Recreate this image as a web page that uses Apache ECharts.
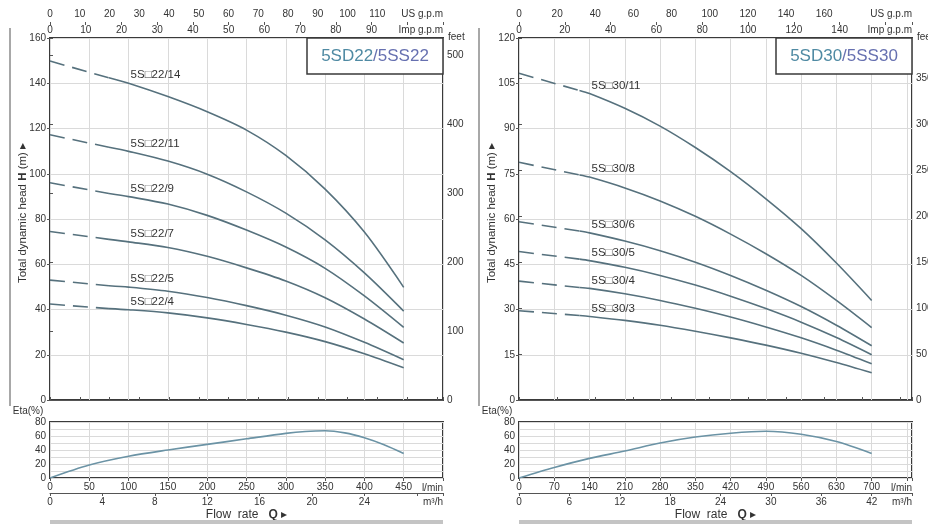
<!DOCTYPE html>
<html><head><meta charset="utf-8">
<script src="https://cdn.jsdelivr.net/npm/echarts@6/dist/echarts.min.js"></script>
<style>html,body{margin:0;padding:0;background:#fff}#c{width:928px;height:524px}</style>
</head><body><div id="c"></div>
<script>
// ---------- DATA ----------
// Left panel: 5SD22/5SS22, flow in l/min (first two points = dashed segment)
const flowL = [0, 75, 100, 150, 200, 250, 300, 350, 400, 450];
const head22_14 = [149.8, 142.4, 140.0, 134.1, 127.4, 119.3, 108.1, 93.2, 74.2, 49.8];
const head22_11 = [117.2, 111.7, 109.9, 105.6, 99.8, 92.0, 82.6, 70.8, 56.2, 39.3];
const head22_9  = [96.0, 91.3, 89.9, 86.6, 81.6, 75.1, 67.6, 58.2, 46.0, 32.1];
const head22_7  = [74.5, 71.0, 69.9, 67.4, 63.5, 58.4, 52.6, 45.2, 35.8, 25.2];
const head22_5  = [53.0, 50.5, 49.9, 48.1, 45.3, 41.7, 37.5, 32.3, 25.5, 17.8];
const head22_4  = [42.4, 40.4, 39.9, 38.5, 36.3, 33.4, 30.0, 25.8, 20.4, 14.2];
const modelsL = ['5S\u25A122/14', '5S\u25A122/11', '5S\u25A122/9', '5S\u25A122/7', '5S\u25A122/5', '5S\u25A122/4'];
const headsL = [head22_14, head22_11, head22_9, head22_7, head22_5, head22_4];
const effFlowL = [0, 50, 100, 150, 200, 250, 300, 325, 350, 375, 400, 425, 450];
const effL     = [0, 18.5, 31, 40, 48, 56, 63.8, 66.5, 67.5, 64.5, 57.5, 47.5, 35];

// Right panel: 5SD30/5SS30
const flowR = [0, 120, 140, 210, 280, 350, 420, 490, 560, 630, 700];
const head30_11 = [108.3, 102.6, 101.6, 96.7, 90.8, 83.7, 75.7, 66.7, 56.8, 45.4, 33.0];
const head30_8  = [78.8, 74.6, 73.9, 70.3, 66.0, 60.9, 55.0, 48.5, 41.3, 33.0, 24.0];
const head30_6  = [59.1, 56.0, 55.4, 52.7, 49.5, 45.7, 41.3, 36.4, 31.0, 24.8, 18.0];
const head30_5  = [49.2, 46.7, 46.2, 44.0, 41.3, 38.1, 34.4, 30.3, 25.8, 20.7, 15.0];
const head30_4  = [39.4, 37.3, 37.0, 35.2, 33.0, 30.4, 27.5, 24.2, 20.6, 16.5, 12.0];
const head30_3  = [29.6, 28.0, 27.7, 26.4, 24.8, 22.8, 20.6, 18.2, 15.5, 12.4, 9.0];
const modelsR = ['5S\u25A130/11', '5S\u25A130/8', '5S\u25A130/6', '5S\u25A130/5', '5S\u25A130/4', '5S\u25A130/3'];
const headsR = [head30_11, head30_8, head30_6, head30_5, head30_4, head30_3];
const effFlowR = [0, 70, 140, 210, 280, 350, 420, 490, 560, 630, 700];
const effR     = [0, 15, 28, 38.5, 50, 58.5, 64, 66.8, 62.5, 52, 35];

const titleL = ['5SD22', '/5SS22'];
const titleR = ['5SD30', '/5SS30'];

// ---------- CHART ----------
const FONT = 'Liberation Sans, Arial, sans-serif';
const LPM_PER_USGPM = 3.785411784, LPM_PER_IMPGPM = 4.54609, M3H_PER_LPM = 0.06, FT_PER_M = 3.28084;
const CURVE = '#56717d', EFF = '#6b93a5', GRIDC = '#dadada', TXT = '#333';

const panels = [
  {left: 50,  flow: flowL, heads: headsL, models: modelsL, effFlow: effFlowL, eff: effL, title: titleL,
   qMax: 500, qInt: 50, qLab: 450, hMax: 160, hInt: 20, ftInt: 100, ftLab: 500,
   usInt: 10, usLab: 110, impInt: 10, impLab: 90, m3Int: 4, m3Lab: 24, labIdx: 2},
  {left: 519, flow: flowR, heads: headsR, models: modelsR, effFlow: effFlowR, eff: effR, title: titleR,
   qMax: 780, qInt: 70, qLab: 700, hMax: 120, hInt: 15, ftInt: 50, ftLab: 350,
   usInt: 20, usLab: 160, impInt: 20, impLab: 140, m3Int: 6, m3Lab: 42, labIdx: 2}
];
const W = 393, TOP = 38, H = 362, ETOP = 422, EH = 56;

function fmt(int, maxLab) {
  return function (v) {
    const k = v / int;
    if (Math.abs(k - Math.round(k)) > 1e-6 || v > maxLab + 1e-6) return '';
    return String(Math.round(v));
  };
}
const lbl = {color: TXT, fontSize: 10, fontFamily: FONT};
function txt(x, y, s, align, size) {
  return {type: 'text', x: x, y: y, z: 12, style: {text: s, align: align || 'left', verticalAlign: 'middle', font: (size || 10) + 'px ' + FONT, fill: TXT}};
}

const grid = [], xAxis = [], yAxis = [], series = [], graphic = [];
panels.forEach((p, pi) => {
  const g0 = pi * 2, g1 = pi * 2 + 1;
  grid.push({left: p.left, top: TOP, width: W, height: H, show: true, borderColor: '#3a3a3a', borderWidth: 2, outerBoundsMode: 'none', containLabel: false});
  grid.push({left: p.left, top: ETOP, width: W, height: EH, show: true, borderColor: '#3a3a3a', borderWidth: 2, outerBoundsMode: 'none', containLabel: false});
  const xb = xAxis.length, yb = yAxis.length;
  // main l/min (no labels)
  xAxis.push({type: 'value', gridIndex: g0, min: 0, max: p.qMax, interval: p.qInt, position: 'bottom',
    axisLine: {show: false}, axisTick: {show: false}, axisLabel: {show: false},
    splitLine: {show: true, lineStyle: {color: GRIDC, width: 1}}});
  // US gpm
  xAxis.push({type: 'value', gridIndex: g0, min: 0, max: p.qMax / LPM_PER_USGPM, interval: p.usInt, position: 'top', offset: 16,
    axisLine: {show: true, lineStyle: {color: '#555', width: 1}}, axisTick: {show: true, length: 3, lineStyle: {color: '#555'}},
    axisLabel: Object.assign({margin: 3, formatter: fmt(p.usInt, p.usLab)}, lbl), splitLine: {show: false}});
  // Imp gpm
  xAxis.push({type: 'value', gridIndex: g0, min: 0, max: p.qMax / LPM_PER_IMPGPM, interval: p.impInt, position: 'top', offset: 16,
    axisLine: {show: false}, axisTick: {show: true, inside: true, length: 3, lineStyle: {color: '#555'}},
    axisLabel: Object.assign({inside: true, margin: 3, formatter: fmt(p.impInt, p.impLab)}, lbl), splitLine: {show: false}});
  // eff l/min
  xAxis.push({type: 'value', gridIndex: g1, min: 0, max: p.qMax, interval: p.qInt, position: 'bottom',
    axisLine: {show: false}, axisTick: {show: true, length: 3, lineStyle: {color: '#555'}},
    axisLabel: Object.assign({margin: 4, formatter: fmt(p.qInt, p.qLab)}, lbl),
    splitLine: {show: true, lineStyle: {color: GRIDC}}});
  // m3/h
  xAxis.push({type: 'value', gridIndex: g1, min: 0, max: p.qMax * M3H_PER_LPM, interval: p.m3Int, position: 'bottom', offset: 15,
    axisLine: {show: true, lineStyle: {color: '#555', width: 1}}, axisTick: {show: true, length: 3, lineStyle: {color: '#555'}},
    axisLabel: Object.assign({margin: 4, formatter: fmt(p.m3Int, p.m3Lab)}, lbl), splitLine: {show: false}});
  // H (m)
  yAxis.push({type: 'value', gridIndex: g0, min: 0, max: p.hMax, interval: p.hInt, position: 'left',
    axisLine: {show: false}, axisTick: {show: true, length: 3, lineStyle: {color: '#555'}},
    axisLabel: Object.assign({margin: 4}, lbl), splitLine: {show: true, lineStyle: {color: GRIDC}}});
  // feet
  yAxis.push({type: 'value', gridIndex: g0, min: 0, max: p.hMax * FT_PER_M, interval: p.ftInt, position: 'right',
    axisLine: {show: false}, axisTick: {show: true, length: 3, lineStyle: {color: '#555'}},
    axisLabel: Object.assign({margin: 4, formatter: fmt(p.ftInt, p.ftLab)}, lbl), splitLine: {show: false}});
  // eff
  yAxis.push({type: 'value', gridIndex: g1, min: 0, max: 80, interval: 10, position: 'left',
    axisLine: {show: false}, axisTick: {show: false},
    axisLabel: Object.assign({margin: 4, formatter: fmt(20, 80)}, lbl), splitLine: {show: true, lineStyle: {color: GRIDC}}});

  // head curves
  p.heads.forEach((hs, ci) => {
    series.push({type: 'line', xAxisIndex: xb, yAxisIndex: yb, silent: true, symbol: 'none',
      data: [[p.flow[0], hs[0]], [p.flow[1], hs[1]]],
      lineStyle: {color: CURVE, width: 1.6, type: [15, 8]}});
    const data = [];
    for (let i = 1; i < p.flow.length; i++) {
      const d = {value: [p.flow[i], hs[i]]};
      if (i === p.labIdx) d.label = {show: true, formatter: p.models[ci], position: 'right', distance: 0, offset: [2, -8],
        color: TXT, fontSize: 11.5, fontFamily: FONT};
      data.push(d);
    }
    series.push({type: 'line', xAxisIndex: xb, yAxisIndex: yb, silent: true, symbol: 'circle', symbolSize: 0, showSymbol: true,
      smooth: 0.3, data: data, lineStyle: {color: CURVE, width: 1.6}, itemStyle: {color: 'rgba(0,0,0,0)'}, label: {show: false}});
  });
  // efficiency
  series.push({type: 'line', xAxisIndex: xb + 3, yAxisIndex: yb + 2, silent: true, symbol: 'none', smooth: 0.3,
    data: p.effFlow.map((q, i) => [q, p.eff[i]]), lineStyle: {color: EFF, width: 1.6}});

  // decorations
  const R = p.left + W, cx = p.left + W / 2;
  graphic.push({type: 'rect', shape: {x: R - 136, y: TOP, width: 136, height: 36}, style: {fill: '#fff', stroke: '#3a3a3a', lineWidth: 1.5}, z: 10});
  graphic.push({type: 'text', x: R - 68, y: TOP + 18, z: 11, style: {
    text: '{a|' + p.title[0] + '}{b|' + p.title[1] + '}', align: 'center', verticalAlign: 'middle',
    rich: {a: {fontSize: 17, fontFamily: FONT, fill: '#4f8aa3', color: '#4f8aa3'}, b: {fontSize: 17, fontFamily: FONT, fill: '#6670b0', color: '#6670b0'}}}});
  graphic.push({type: 'text', x: p.left - 27, y: 213, rotation: Math.PI / 2, style: {
    text: '{a|Total dynamic head }{b|H}{a| (m) \u25B8}', align: 'center', verticalAlign: 'middle',
    rich: {a: {fontSize: 11.5, fontFamily: FONT, fill: TXT, color: TXT}, b: {fontSize: 11.5, fontFamily: FONT, fontWeight: 'bold', fill: TXT, color: TXT}}}});
  graphic.push({type: 'line', shape: {x1: p.left - 40, y1: 28, x2: p.left - 40, y2: 406}, style: {stroke: '#a8a8a8', lineWidth: 2}});
  graphic.push(txt(p.left - 22, 411, 'Eta(%)', 'center'));
  graphic.push(txt(R, 14, 'US g.p.m', 'right'));
  graphic.push(txt(R, 30, 'Imp g.p.m', 'right'));
  graphic.push(txt(R + 5, 37, 'feet', 'left'));
  graphic.push(txt(R, 488, 'l/min', 'right'));
  graphic.push(txt(R, 502, 'm\u00B3/h', 'right'));
  graphic.push({type: 'text', x: cx, y: 515, style: {
    text: '{a|Flow  rate   }{b|Q}{a| \u25B8}', align: 'center', verticalAlign: 'middle',
    rich: {a: {fontSize: 12, fontFamily: FONT, fill: TXT, color: TXT}, b: {fontSize: 12, fontFamily: FONT, fontWeight: 'bold', fill: TXT, color: TXT}}}});
  graphic.push({type: 'rect', shape: {x: p.left, y: 520, width: W, height: 4}, style: {fill: '#c4c4c4'}});
});

const chart = echarts.init(document.getElementById('c'), null, {renderer: 'canvas'});
chart.setOption({
  animation: false, backgroundColor: '#fff',
  textStyle: {fontFamily: FONT},
  grid, xAxis, yAxis, series, graphic
});
</script></body></html>
